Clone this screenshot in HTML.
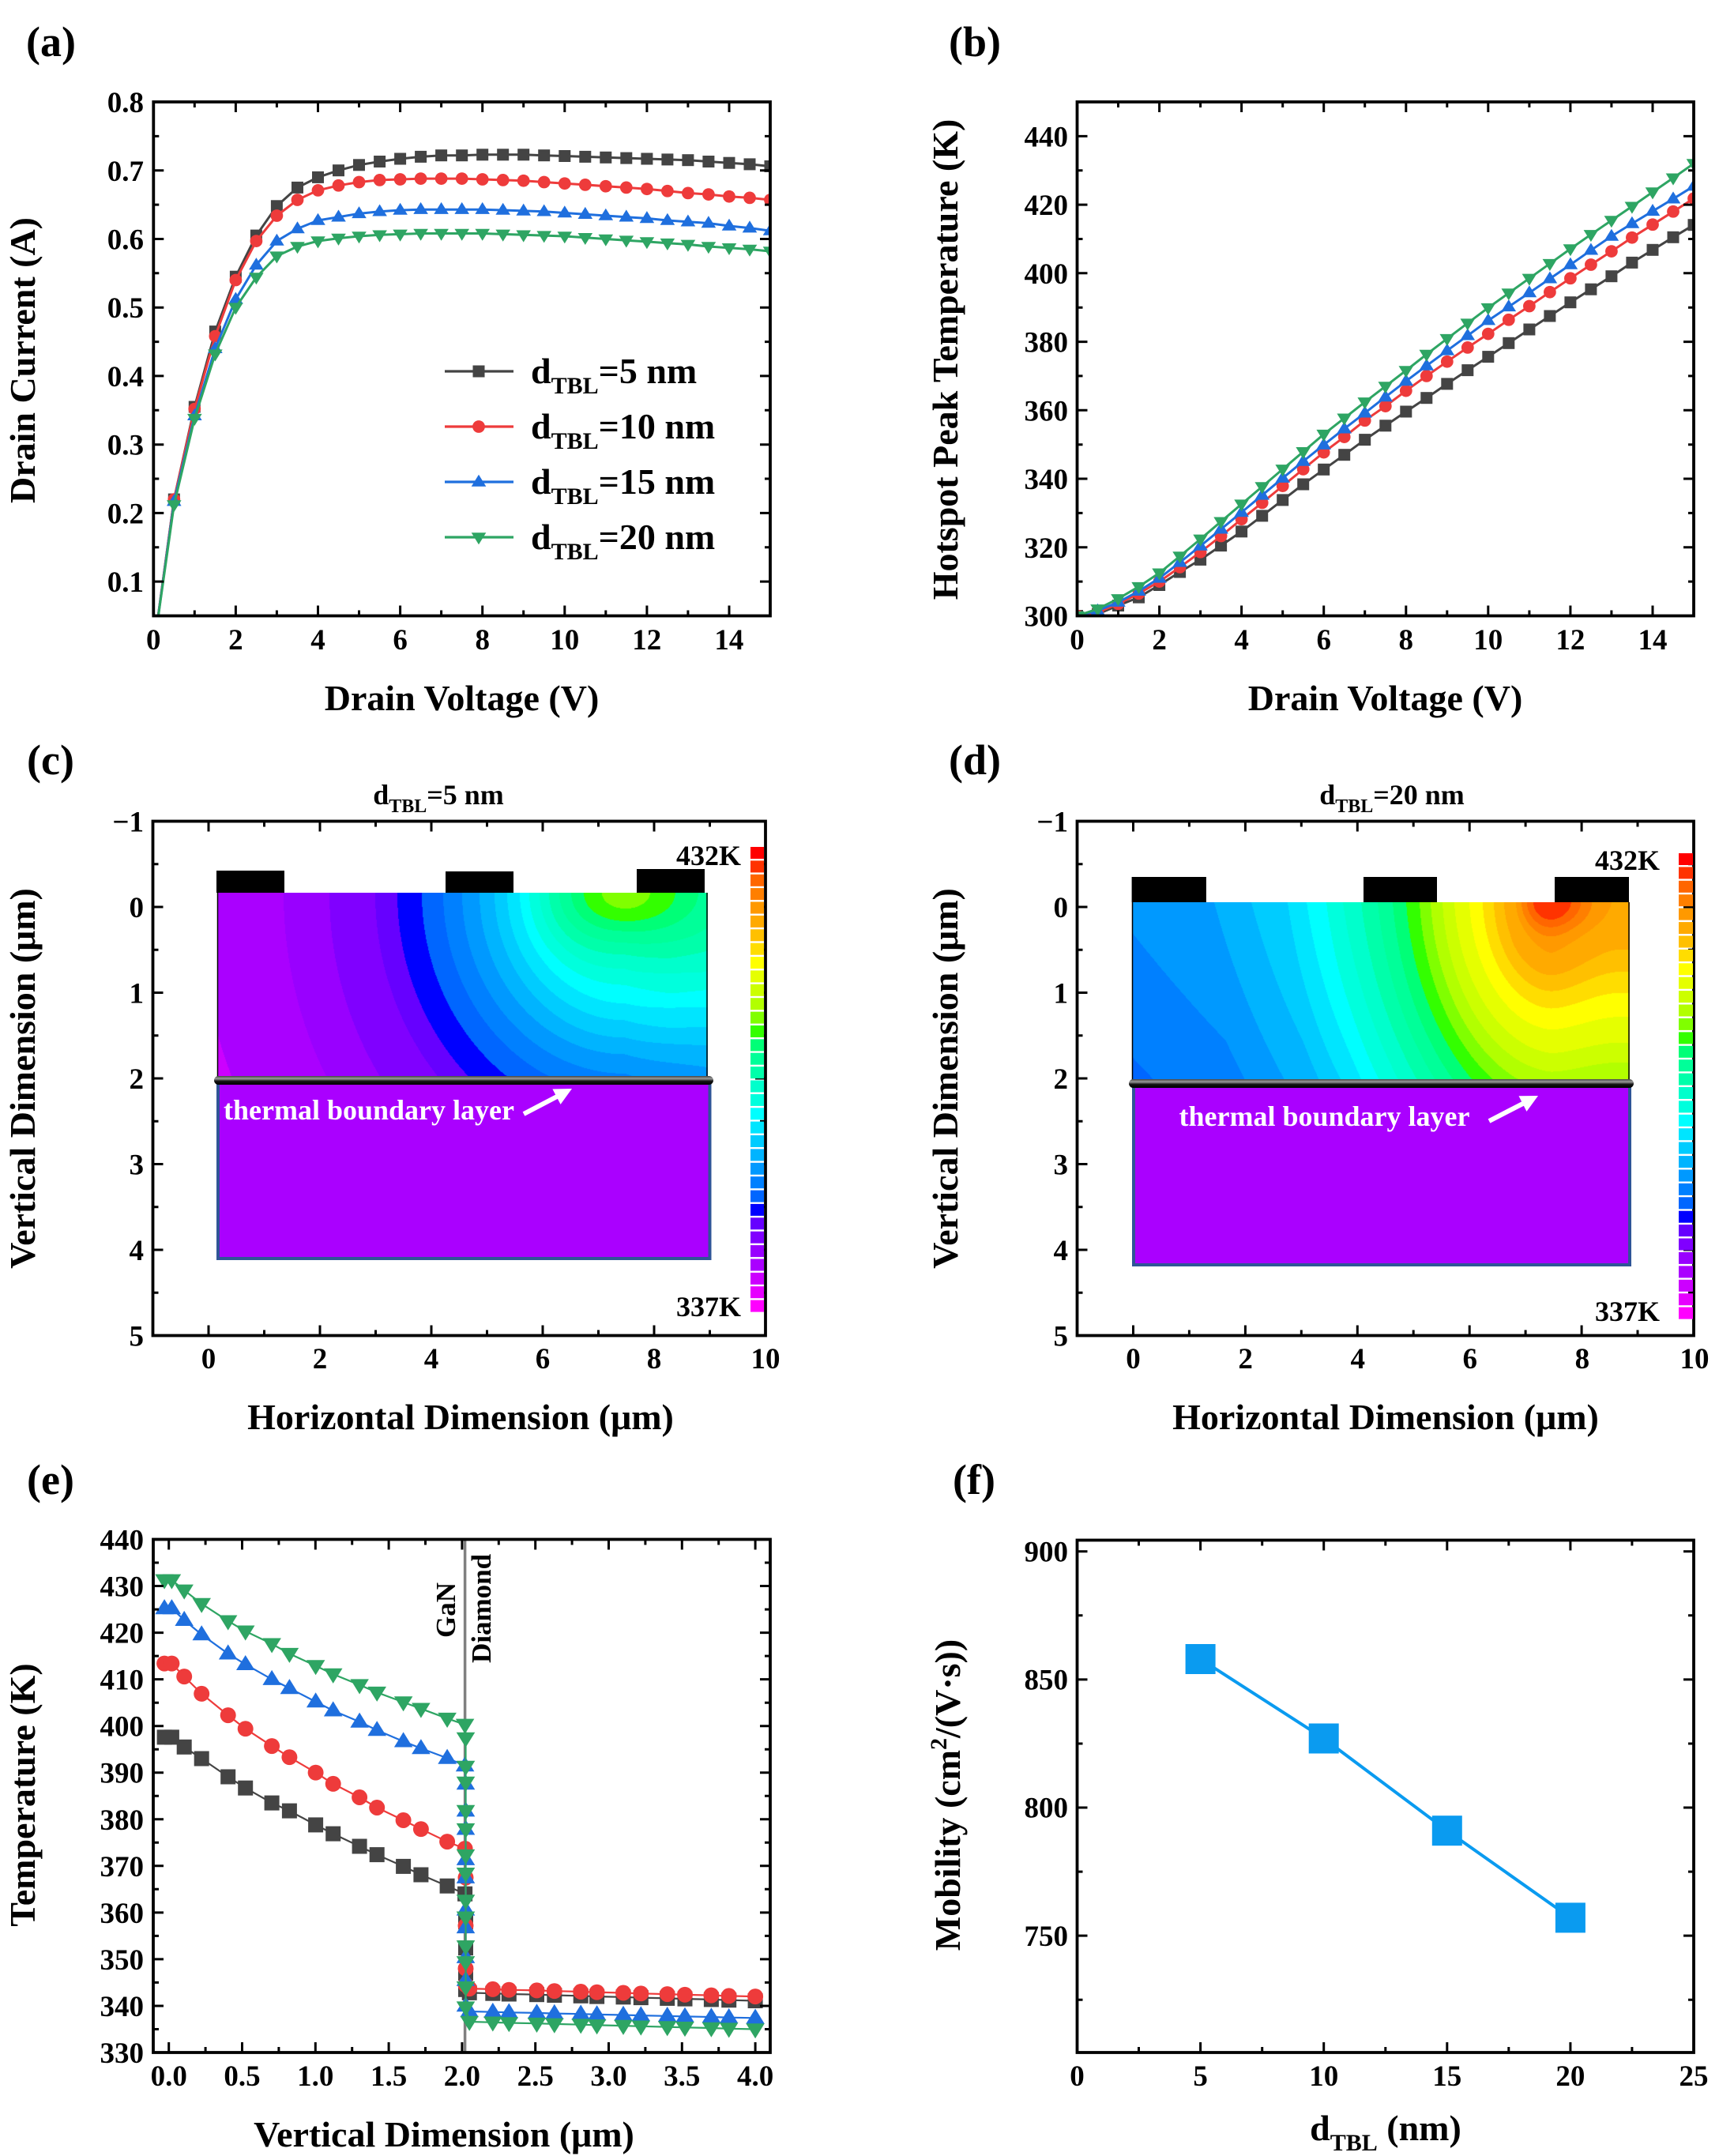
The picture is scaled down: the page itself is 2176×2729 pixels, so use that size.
<!DOCTYPE html>
<html><head><meta charset="utf-8">
<style>
html,body{margin:0;padding:0;background:#fff;}
#wrap{position:relative;width:2176px;height:2729px;overflow:hidden;background:#fff;}
canvas{position:absolute;}
svg{position:absolute;left:0;top:0;}
</style></head>
<body><div id="wrap">
<canvas id="cc" style="left:275px;top:1130px" width="621" height="234"></canvas>
<canvas id="cd" style="left:1433px;top:1142px" width="630" height="226"></canvas>
<svg id="s" width="2176" height="2729" viewBox="0 0 2176 2729" xmlns="http://www.w3.org/2000/svg" style="font-family:'Liberation Serif','Times New Roman',serif;font-weight:bold">
<defs>
<linearGradient id="tbl" x1="0" y1="0" x2="0" y2="1"><stop offset="0" stop-color="#444"/><stop offset="0.3" stop-color="#9a9a9a"/><stop offset="0.6" stop-color="#111"/><stop offset="1" stop-color="#000"/></linearGradient>
</defs>
<g id="dyn"></g>

<!-- contour overlays (c) -->
<line x1="275.5" y1="1130" x2="275.5" y2="1364" stroke="#000" stroke-width="1.5"/>
<line x1="895" y1="1130" x2="895" y2="1364" stroke="#000" stroke-width="1.5"/>
<rect x="276" y="1368" width="622.5" height="225" fill="#aa00ff" stroke="#2f5597" stroke-width="4"/>
<rect x="271" y="1362" width="632" height="11" rx="5.5" fill="url(#tbl)"/>
<rect x="274" y="1102" width="86" height="28" fill="#000"/>
<rect x="564" y="1103" width="86" height="27" fill="#000"/>
<rect x="806" y="1100" width="86" height="30" fill="#000"/>
<text x="283" y="1417" font-size="36" fill="#fff">thermal boundary layer</text>
<line x1="663" y1="1410" x2="706" y2="1387.5" stroke="#fff" stroke-width="6"/>
<polygon points="724,1378 709.6,1397.9 699.4,1378.5" fill="#fff"/>

<!-- contour overlays (d) -->
<line x1="1433.5" y1="1142" x2="1433.5" y2="1368" stroke="#000" stroke-width="1.5"/>
<line x1="2062" y1="1142" x2="2062" y2="1368" stroke="#000" stroke-width="1.5"/>
<rect x="1435" y="1372" width="628" height="229" fill="#aa00ff" stroke="#2f5597" stroke-width="4"/>
<rect x="1429" y="1366" width="639" height="11" rx="5.5" fill="url(#tbl)"/>
<rect x="1432.6" y="1110" width="94.3" height="32" fill="#000"/>
<rect x="1726" y="1110" width="93" height="32" fill="#000"/>
<rect x="1968" y="1110" width="94" height="32" fill="#000"/>
<text x="1492.5" y="1425" font-size="36" fill="#fff">thermal boundary layer</text>
<line x1="1885" y1="1419" x2="1929" y2="1396.3" stroke="#fff" stroke-width="6"/>
<polygon points="1947,1387 1932.5,1406.9 1922.5,1387.3" fill="#fff"/>

<!-- panel labels -->
<g font-size="54">
<text x="33" y="71">(a)</text>
<text x="1201" y="71">(b)</text>
<text x="34" y="980">(c)</text>
<text x="1201" y="980">(d)</text>
<text x="34" y="1891">(e)</text>
<text x="1206" y="1891">(f)</text>
</g>

<!-- tick labels -->
<g font-size="37" text-anchor="end">
<text x="182" y="749">0.1</text><text x="182" y="662.4">0.2</text><text x="182" y="575.7">0.3</text><text x="182" y="488.9">0.4</text><text x="182" y="402.2">0.5</text><text x="182" y="315.5">0.6</text><text x="182" y="228.8">0.7</text><text x="182" y="142">0.8</text>
<text x="1352" y="792.5">300</text><text x="1352" y="705.8">320</text><text x="1352" y="619">340</text><text x="1352" y="532.3">360</text><text x="1352" y="445.6">380</text><text x="1352" y="358.8">400</text><text x="1352" y="272.1">420</text><text x="1352" y="185.4">440</text>
<text x="182" y="1052.5">−1</text><text x="182" y="1161">0</text><text x="182" y="1269.5">1</text><text x="182" y="1378">2</text><text x="182" y="1486.5">3</text><text x="182" y="1595">4</text><text x="182" y="1703.5">5</text>
<text x="1352" y="1052.5">−1</text><text x="1352" y="1161">0</text><text x="1352" y="1269.5">1</text><text x="1352" y="1378">2</text><text x="1352" y="1486.5">3</text><text x="1352" y="1595">4</text><text x="1352" y="1703.5">5</text>
<text x="182" y="2611">330</text><text x="182" y="2552">340</text><text x="182" y="2492.9">350</text><text x="182" y="2433.9">360</text><text x="182" y="2374.8">370</text><text x="182" y="2315.8">380</text><text x="182" y="2256.7">390</text><text x="182" y="2197.7">400</text><text x="182" y="2138.7">410</text><text x="182" y="2079.6">420</text><text x="182" y="2020.6">430</text><text x="182" y="1961.5">440</text>
<text x="1352" y="2463">750</text><text x="1352" y="2300.7">800</text><text x="1352" y="2138.5">850</text><text x="1352" y="1976.7">900</text>
</g>
<g font-size="37" text-anchor="middle">
<text x="194.3" y="822">0</text><text x="298.4" y="822">2</text><text x="402.5" y="822">4</text><text x="506.6" y="822">6</text><text x="610.7" y="822">8</text><text x="714.7" y="822">10</text><text x="818.8" y="822">12</text><text x="922.9" y="822">14</text>
<text x="1363.5" y="822">0</text><text x="1467.6" y="822">2</text><text x="1571.6" y="822">4</text><text x="1675.7" y="822">6</text><text x="1779.8" y="822">8</text><text x="1883.8" y="822">10</text><text x="1987.9" y="822">12</text><text x="2092" y="822">14</text>
<text x="264" y="1732">0</text><text x="405" y="1732">2</text><text x="546" y="1732">4</text><text x="687" y="1732">6</text><text x="828" y="1732">8</text><text x="969" y="1732">10</text>
<text x="1434.5" y="1732">0</text><text x="1576.6" y="1732">2</text><text x="1718.7" y="1732">4</text><text x="1860.8" y="1732">6</text><text x="2002.9" y="1732">8</text><text x="2145" y="1732">10</text>
<text x="213.7" y="2640">0.0</text><text x="306.5" y="2640">0.5</text><text x="399.3" y="2640">1.0</text><text x="492.1" y="2640">1.5</text><text x="584.9" y="2640">2.0</text><text x="677.7" y="2640">2.5</text><text x="770.5" y="2640">3.0</text><text x="863.3" y="2640">3.5</text><text x="956.1" y="2640">4.0</text>
<text x="1363.5" y="2640">0</text><text x="1519.6" y="2640">5</text><text x="1675.7" y="2640">10</text><text x="1831.8" y="2640">15</text><text x="1987.9" y="2640">20</text><text x="2144" y="2640">25</text>
</g>

<!-- axis titles -->
<g font-size="46" text-anchor="middle">
<text x="584.5" y="899">Drain Voltage (V)</text>
<text x="1753.5" y="899">Drain Voltage (V)</text>
<text x="583" y="1809">Horizontal Dimension (μm)</text>
<text x="1754" y="1809">Horizontal Dimension (μm)</text>
<text x="562" y="2717">Vertical Dimension (μm)</text>
<text x="1754" y="2709">d<tspan font-size="30" dy="13">TBL</tspan><tspan dy="-13">&#160;(nm)</tspan></text>
<text transform="translate(44,456) rotate(-90)">Drain Current (A)</text>
<text transform="translate(1212,455) rotate(-90)">Hotspot Peak Temperature (K)</text>
<text transform="translate(44,1365) rotate(-90)">Vertical Dimension (μm)</text>
<text transform="translate(1212,1365) rotate(-90)">Vertical Dimension (μm)</text>
<text transform="translate(44,2272) rotate(-90)">Temperature (K)</text>
<text transform="translate(1215,2272) rotate(-90)">Mobility (cm<tspan font-size="30" dy="-17">2</tspan><tspan dy="17">/(V·s))</tspan></text>
</g>

<!-- legend text -->
<g font-size="46">
<text x="672" y="485">d<tspan font-size="30" dy="13">TBL</tspan><tspan dy="-13">=5 nm</tspan></text>
<text x="672" y="555">d<tspan font-size="30" dy="13">TBL</tspan><tspan dy="-13">=10 nm</tspan></text>
<text x="672" y="625">d<tspan font-size="30" dy="13">TBL</tspan><tspan dy="-13">=15 nm</tspan></text>
<text x="672" y="695">d<tspan font-size="30" dy="13">TBL</tspan><tspan dy="-13">=20 nm</tspan></text>
</g>

<!-- contour titles & colorbar labels -->
<g font-size="36">
<text x="555" y="1018" text-anchor="middle">d<tspan font-size="24" dy="10">TBL</tspan><tspan dy="-10">=5 nm</tspan></text>
<text x="1762" y="1018" text-anchor="middle">d<tspan font-size="24" dy="10">TBL</tspan><tspan dy="-10">=20 nm</tspan></text>
<text x="938" y="1095" text-anchor="end">432K</text>
<text x="938" y="1666" text-anchor="end">337K</text>
<text x="2101" y="1101" text-anchor="end">432K</text>
<text x="2101" y="1672" text-anchor="end">337K</text>
</g>

<!-- GaN / Diamond labels -->
<g font-size="35" text-anchor="middle">
<text transform="translate(576,2038) rotate(-90)">GaN</text>
<text transform="translate(621,2036) rotate(-90)">Diamond</text>
</g>
</svg>
</div>
<script>
(function(){
var PAL=['#ffffff','#ff0000','#ff3300','#ff6600','#ff7f00','#ff9900','#ffaa00','#ffc000','#ffdd00','#ffff00','#e5ff00',
'#ccff00','#b2ff00','#80ff00','#33ff00','#00ff77','#00ff99','#00ffaa','#00ffcc','#00ffdd','#00ffff',
'#00e5ff','#00ccff','#00b4ff','#0099ff','#0080ff','#0066ff','#0000ff','#6600ff','#8000ff','#9900ff',
'#aa00ff','#cc00ff','#e600ff','#ff00ff'];
function hex(h){return [parseInt(h.substr(1,2),16),parseInt(h.substr(3,2),16),parseInt(h.substr(5,2),16)];}
var RGB=PAL.map(hex);
function interp(K,r){
  if(r<=K[0][0])return K[0][1];
  for(var i=1;i<K.length;i++){if(r<=K[i][0]){var a=K[i-1],b=K[i];return a[1]+(b[1]-a[1])*(r-a[0])/(b[0]-a[0]);}}
  var a=K[K.length-2],b=K[K.length-1];return b[1]+(b[1]-a[1])*(r-b[0])/(b[0]-a[0]);
}
var KC=[[0,12.6],[29,13.5],[52,14.5],[68,15.5],[83,16.5],[96,17.5],[108,18.5],[121,19.5],[133,20.5],[149,21.5],[165,22.5],[184,23.5],[206,24.5],[230,25.5],[257,26.5],[288,27.5],[316,28.5],[374,29.5],[432,30.5],[540,31.5],[640,32.5]];
var KK=[[0,1.45],[40,1.45],[100,1.1],[140,0.95],[180,0.9],[3000,0.9]];
function levelC(x,y){
  var dx=x-791,dy=y-1130;var rho=Math.sqrt(dx*dx+dy*dy);
  var k=interp(KK,rho),s=1;
  if(dx>0){var f=Math.min(dx/104,1);s=1-0.3*f;k*=1-0.15*f;}
  var r=Math.sqrt(dx*s*dx*s+dy*k*dy*k);return interp(KC,r);
}
var KD=[[0,1.6],[22,2.5],[30,3.5],[37,4.5],[44,5.5],[59,6.5],[72,7.5],[86,8.5],[103,9.5],[122,10.5],[137,11.5],[152,12.5],[166,13.5],[183,14.5],[200,15.5],[219,16.5],[240,17.5],[263,18.5],[284,19.5],[309,20.5],[333,21.5],[379,22.5],[426,23.5],[560,24.5],[700,25.5]];
var KDK=[[0,1.0],[25,1.0],[70,0.64],[3000,0.61]];
function levelD(x,y){
  var dx=x-1963,dy=y-1142;var s=1;
  if(dx>0){s=1-0.55*Math.min(dx/99,1);}
  var rho=Math.sqrt(dx*dx+dy*dy);var k=interp(KDK,rho);
  var r=Math.sqrt(dx*s*dx*s+dy*k*dy*k);var L=interp(KD,r);
  L+=1.3*(dy/228)*Math.max(0,Math.min(1,-dx/250));return L;
}
function field(id,x0,y0,fn){
  var c=document.getElementById(id);if(!c.getContext)return;
  var ctx=c.getContext('2d');var W=c.width,H=c.height;var img=ctx.createImageData(W,H);var d=img.data;
  for(var y=0;y<H;y++)for(var x=0;x<W;x++){
    var L=Math.round(fn(x0+x+0.5,y0+y+0.5));if(L<1)L=1;if(L>34)L=34;var col=RGB[L];var o=(y*W+x)*4;
    d[o]=col[0];d[o+1]=col[1];d[o+2]=col[2];d[o+3]=255;}
  ctx.putImageData(img,0,0);
}
field('cc',275,1130,levelC);
field('cd',1433,1142,levelD);

var out=[];
var P={
 a:{x0:194.3,x1:975,y0:129,y1:779.5,xmin:0,xmax:15,ymin:0.05,ymax:0.8},
 b:{x0:1363.5,x1:2144,y0:129,y1:779.5,xmin:0,xmax:15,ymin:300,ymax:450},
 c:{x0:193.5,x1:969,y0:1039.5,y1:1690.5,xmin:-1,xmax:10,ymin:-1,ymax:5,inv:1},
 d:{x0:1363.5,x1:2144,y0:1039.5,y1:1690.5,xmin:-1,xmax:10,ymin:-1,ymax:5,inv:1},
 e:{x0:194,x1:975,y0:1948.5,y1:2598,xmin:-0.106,xmax:4.102,ymin:330,ymax:440},
 f:{x0:1363.5,x1:2144,y0:1949.5,y1:2598,xmin:0,xmax:25,ymin:704.4,ymax:904.4}
};
function X(p,v){return p.x0+(v-p.xmin)/(p.xmax-p.xmin)*(p.x1-p.x0);}
function Y(p,v){return p.inv?p.y0+(v-p.ymin)/(p.ymax-p.ymin)*(p.y1-p.y0):p.y1-(v-p.ymin)/(p.ymax-p.ymin)*(p.y1-p.y0);}
function rng(a,b,st){var r=[];for(var v=a;v<=b+1e-9;v+=st)r.push(Math.round(v*1000)/1000);return r;}
function axes(p,xm,xn,ym,yn){
  var s='';
  function tx(v,L){var x=X(p,v).toFixed(1);s+='M'+x+','+p.y1+'V'+(p.y1-L)+'M'+x+','+p.y0+'V'+(p.y0+L);}
  function ty(v,L){var y=Y(p,v).toFixed(1);s+='M'+p.x0+','+y+'H'+(p.x0+L)+'M'+p.x1+','+y+'H'+(p.x1-L);}
  xm.forEach(function(v){tx(v,13);});xn.forEach(function(v){tx(v,7);});
  ym.forEach(function(v){ty(v,13);});yn.forEach(function(v){ty(v,7);});
  out.push('<path d="'+s+'" stroke="#000" stroke-width="3" fill="none"/>');
  out.push('<rect x="'+p.x0+'" y="'+p.y0+'" width="'+(p.x1-p.x0)+'" height="'+(p.y1-p.y0)+'" fill="none" stroke="#000" stroke-width="3.8"/>');
}
function mk(t,x,y,s,c){
  var h=s/2;
  if(t=='sq')return '<rect x="'+(x-h).toFixed(1)+'" y="'+(y-h).toFixed(1)+'" width="'+s+'" height="'+s+'" fill="'+c+'"/>';
  if(t=='ci')return '<circle cx="'+x.toFixed(1)+'" cy="'+y.toFixed(1)+'" r="'+(h*1.05)+'" fill="'+c+'"/>';
  var a=s*0.62;
  if(t=='tu')return '<polygon points="'+x.toFixed(1)+','+(y-a).toFixed(1)+' '+(x+a).toFixed(1)+','+(y+a*0.62).toFixed(1)+' '+(x-a).toFixed(1)+','+(y+a*0.62).toFixed(1)+'" fill="'+c+'"/>';
  return '<polygon points="'+x.toFixed(1)+','+(y+a).toFixed(1)+' '+(x+a).toFixed(1)+','+(y-a*0.62).toFixed(1)+' '+(x-a).toFixed(1)+','+(y-a*0.62).toFixed(1)+'" fill="'+c+'"/>';
}
function series(p,clip,pts,c,t,s,lw){
  var d='M'+pts.map(function(q){return X(p,q[0]).toFixed(1)+','+Y(p,q[1]).toFixed(1);}).join('L');
  var g='<g clip-path="url(#'+clip+')"><path d="'+d+'" fill="none" stroke="'+c+'" stroke-width="'+lw+'" stroke-linejoin="round"/>';
  pts.forEach(function(q){g+=mk(t,X(p,q[0]),Y(p,q[1]),s,c);});
  out.push(g+'</g>');
}
function clip(id,p){out.push('<clipPath id="'+id+'"><rect x="'+p.x0+'" y="'+p.y0+'" width="'+(p.x1-p.x0)+'" height="'+(p.y1-p.y0)+'"/></clipPath>');}
['a','b','e','f'].forEach(function(k){clip('cl'+k,P[k]);});

var CK='#444444',CR='#ee3b3b',CB='#1f6fde',CG='#2ea563';
function half(arr){return arr.map(function(v,i){return [i*0.5,v];});}
// (a)
var A=[
 [CK,'sq',[0,.22,.355,.465,.545,.605,.648,.675,.69,.70,.708,.713,.717,.72,.722,.722,.723,.723,.723,.722,.721,.72,.719,.718,.717,.716,.715,.713,.711,.709,.706]],
 [CR,'ci',[0,.22,.352,.458,.54,.597,.634,.657,.671,.678,.683,.686,.687,.688,.688,.688,.687,.686,.685,.683,.681,.679,.677,.675,.673,.670,.667,.665,.662,.660,.657]],
 [CB,'tu',[0,.217,.342,.44,.512,.562,.597,.615,.627,.632,.637,.64,.642,.643,.643,.643,.643,.642,.641,.640,.638,.636,.634,.632,.630,.627,.625,.623,.619,.616,.612]],
 [CG,'td',[0,.212,.338,.432,.5,.544,.575,.589,.597,.601,.604,.606,.607,.608,.608,.608,.608,.607,.606,.605,.604,.602,.600,.598,.596,.594,.592,.589,.587,.585,.582]]];
A.forEach(function(s){series(P.a,'cla',half(s[2]),s[0],s[1],15,3);});
// legend
[[470,CK,'sq'],[540,CR,'ci'],[610,CB,'tu'],[680,CG,'td']].forEach(function(l){
  out.push('<line x1="563" y1="'+l[0]+'" x2="650" y2="'+l[0]+'" stroke="'+l[1]+'" stroke-width="3.2"/>'+mk(l[2],606,l[0],15,l[1]));});
axes(P.a,rng(0,14,2),rng(1,13,2),rng(0.1,0.8,0.1),rng(0.15,0.75,0.1));
// (b)
var B=[
 [CK,'sq',[300,300.5,303,305.4,309,312.8,316.4,320.5,324.6,329.2,333.8,338.4,342.7,347,351.4,355.5,359.6,363.6,367.7,371.7,375.6,379.6,383.6,387.5,391.5,395.3,399.1,403.1,406.8,410.5,414.1]],
 [CR,'ci',[300,301,303.5,306.5,310,314.2,318.6,323.3,328.2,333,337.9,342.8,347.7,352.2,357,361.2,365.7,370,374.2,378.3,382.3,386.4,390.4,394.5,398.5,402.5,406.4,410.4,414.2,418,421.8]],
 [CB,'tu',[300,301.5,304,307.2,311,315.6,320.4,325.3,330.2,335.2,340.2,345.1,349.9,354.6,359.2,363.9,368.5,373,377.4,381.8,386.2,390.2,394.3,398.4,402.5,406.7,410.8,414.5,418.1,421.7,425.4]],
 [CG,'td',[300,302,305,308.5,312.5,317.4,322.4,327.5,332.6,337.7,342.8,347.9,353,357.7,362.4,367,371.6,376.3,380.9,385.4,389.9,394.2,398.5,402.8,407.1,411.3,415.4,419.5,423.7,427.8,432]]];
B.forEach(function(s){series(P.b,'clb',half(s[2]),s[0],s[1],15,3);});
axes(P.b,rng(0,14,2),rng(1,13,2),rng(320,440,20),rng(310,450,20));
// (c),(d) axes + colorbars
axes(P.c,rng(0,8,2),rng(1,9,2),rng(0,4,1),rng(-0.5,4.5,1));
axes(P.d,rng(0,8,2),rng(1,9,2),rng(0,4,1),rng(-0.5,4.5,1));
function cbar(x,w,y0,y1){var st=(y1-y0)/34;var g='';for(var i=0;i<34;i++){g+='<rect x="'+x+'" y="'+(y0+i*st).toFixed(1)+'" width="'+w+'" height="'+(st-2.4).toFixed(1)+'" fill="'+PAL[i+1]+'"/>';}out.push(g);}
cbar(950,17,1072,1663);
cbar(2125,18,1080,1672);
// (e)
var xg=[-0.03,0.02,0.105,0.224,0.404,0.523,0.703,0.823,1.002,1.121,1.301,1.42,1.6,1.72,1.899,2.02];
var xd=[2.05,2.21,2.32,2.51,2.63,2.81,2.92,3.1,3.22,3.4,3.52,3.7,3.82,4.0];
var ex=X(P.e,2.02);
out.push('<line x1="'+ex.toFixed(1)+'" y1="'+P.e.y0+'" x2="'+ex.toFixed(1)+'" y2="'+P.e.y1+'" stroke="#808080" stroke-width="3.5"/>');
var E=[
 [CK,'sq',[397.6,397.6,395.5,393,389.1,386.7,383.5,381.8,378.8,376.9,374.2,372.4,369.9,368.1,365.7,364],[358,352.4,347,343.5],342.8,341.1],
 [CR,'ci',[413.4,413.4,410.6,406.9,402.3,399.4,395.7,393.3,390,387.6,384.7,382.5,379.8,377.9,375.2,373.7],[367.5,357.2,348,344.5],343.7,342.0],
 [CB,'tu',[425.2,425.2,422.7,419.6,415.5,413.2,410,408.1,405.2,403.3,400.9,399.1,396.7,395.2,393.1,391.5],[387.6,381.8,377.9,371.4,367.5,360.6,356.8,350.4,345.5,340],338.8,337.4],
 [CG,'td',[431.3,431.3,429.1,426.2,422.5,420.3,417.6,415.5,412.9,411.1,408.8,407.2,405.1,403.7,401.6,400.3],[397.4,391.3,387.9,381.8,377.9,372.3,368.4,362.6,359,352.8,349.4,344,339.7],336.6,335.0]];
E.forEach(function(s){
  var pts=xg.map(function(x,i){return [x,s[2][i]];});
  s[3].forEach(function(v){pts.push([2.025,v]);});
  xd.forEach(function(x,i){pts.push([x,s[4]+(s[5]-s[4])*i/(xd.length-1)]);});
  series(P.e,'cle',pts,s[0],s[1],19,2.2);
});
axes(P.e,rng(0,4,0.5),rng(0.25,3.75,0.5),rng(340,430,10),rng(335,435,10));
// (f)
series(P.f,'clf',[[5,858],[10,827],[15,791],[20,757]],'#0a9bf0','sq',38,4);
axes(P.f,rng(5,20,5),rng(2.5,22.5,5),rng(750,900,50),rng(725,875,50));

document.getElementById('dyn').innerHTML=out.join('');
})();
</script>
</body></html>
